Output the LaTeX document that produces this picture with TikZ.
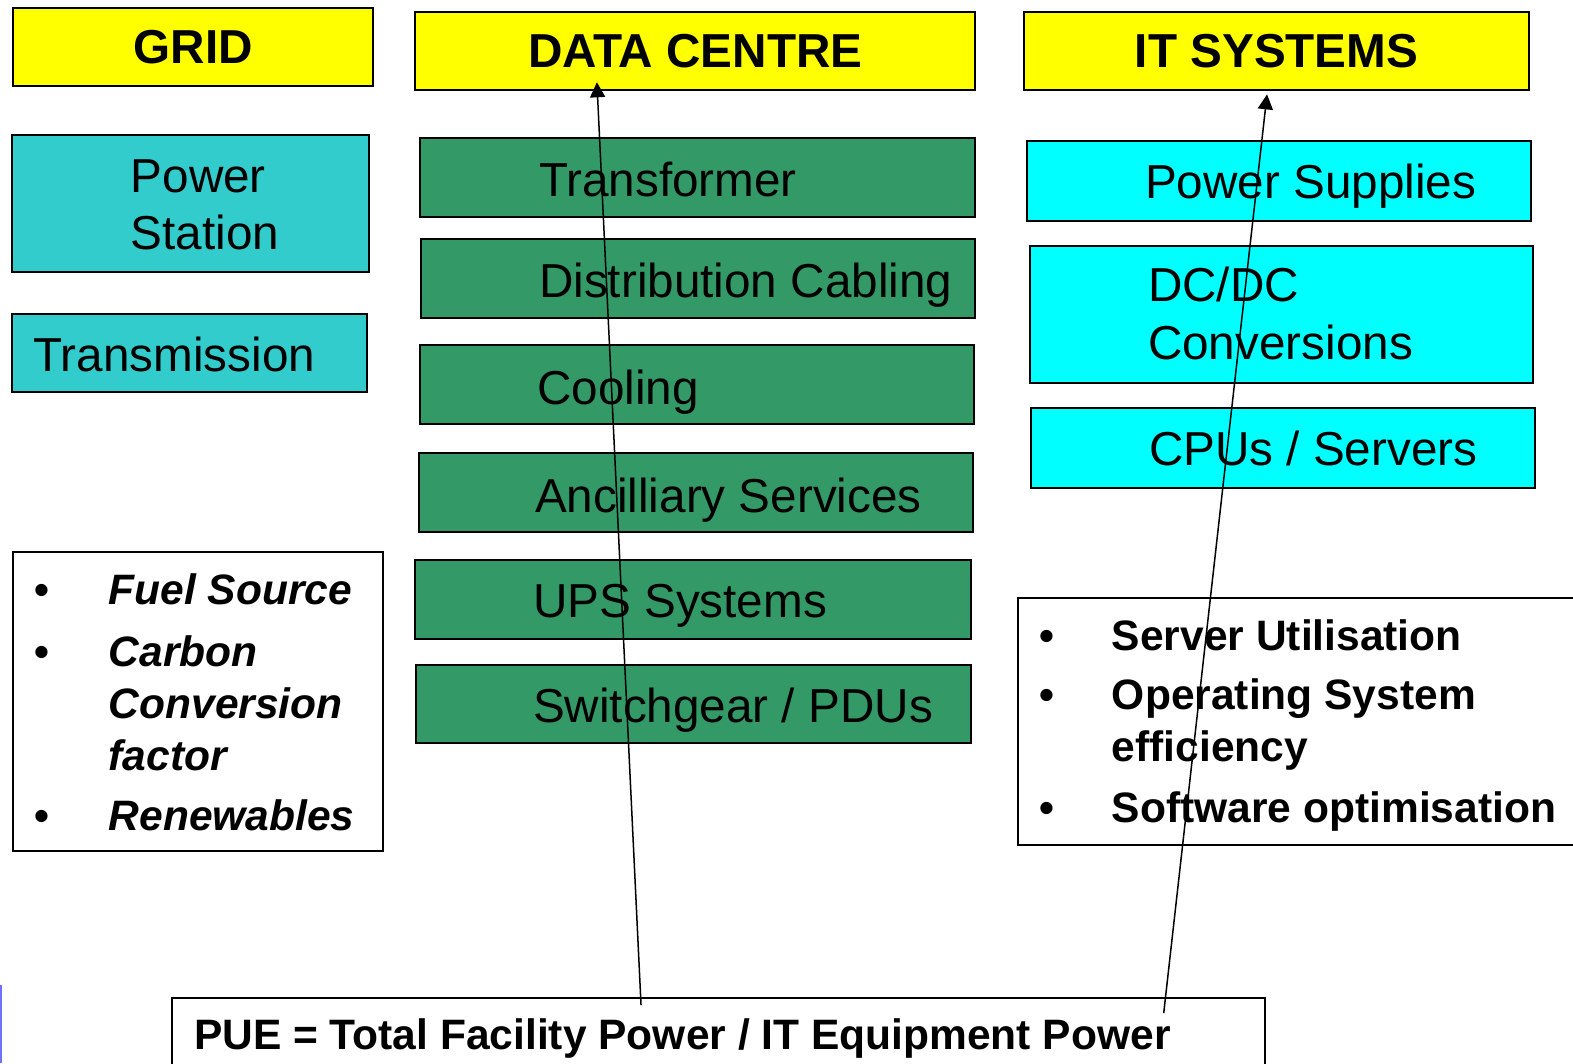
\documentclass[tikz,border=0pt]{standalone}
\usepackage{fontspec}
\setmainfont{Liberation Sans}
\usepackage{tikz}
\usetikzlibrary{positioning, arrows.meta}

\definecolor{titleyellow}{HTML}{FFFF00}
\definecolor{gridteal}{HTML}{33CCCC}
\definecolor{dcgreen}{HTML}{339966}
\definecolor{itcyan}{HTML}{00FFFF}
\definecolor{edgeblue}{HTML}{7070FF}

\begin{document}
\begin{tikzpicture}[x = 0.5pt, y = -0.5pt,
    box/.style = { draw, line width = 1pt, inner sep = 0pt, minimum height = 39pt },
    titlebox/.style = { box, fill = titleyellow, font = \fontsize{23.75}{28}\selectfont\bfseries },
    tealbox/.style = { box, fill = gridteal },
    greenbox/.style = { box, fill = dcgreen, minimum width = 276pt },
    cyanbox/.style = { box, fill = itcyan, minimum width = 251pt },
    listbox/.style = { box, fill = white },
    lbl/.style = { anchor = base west, inner sep = 0pt, font = \fontsize{23.75}{28}\selectfont },
    item/.style = { anchor = base west, inner sep = 0pt, font = \fontsize{21.2}{25}\selectfont\bfseries },
    itemit/.style = { item, font = \fontsize{21.2}{25}\selectfont\bfseries\itshape },
    pointer/.style = { line width = 0.75pt, -{Triangle[length = 7.5pt, width = 7.5pt]} }]
    \useasboundingbox (0,0) rectangle (1568,1060);
    \clip (0,0) rectangle (1568,1060);

    % column heads
    \node [titlebox, minimum width = 179.5pt] (grid) at (192.5,47) { GRID };
    \node [titlebox, minimum width = 279pt] (dc) at (693,51) { DATA CENTRE };
    \node [titlebox, minimum width = 251.5pt] (its) at (1272.5,51) { IT SYSTEMS };

    % grid
    \node [tealbox, minimum width = 178pt, minimum height = 68pt] (station) at (190,203) {};
    \node [lbl] (stationA) at (130,192) { Power };
    \node [lbl] (stationB) at (130,249) { Station };
    \node [tealbox, minimum width = 177pt] (transm) at (189,352) {};
    \node [lbl] (transmT) at (33,370) { Transmission };

    % data centre
    \node [greenbox, minimum width = 276.5pt] (trafo) at (695.5,177) {};
    \node [lbl] (trafoT) at (537,196) { Transformer };
    \node [greenbox, minimum height = 39.5pt] (cabling) at (696,277.5) {};
    \node [lbl] (cablingT) at (537,297) { Distribution Cabling };
    \node [greenbox, minimum height = 39.5pt] (cooling) at (695,383.5) {};
    \node [lbl] (coolingT) at (535,403) { Cooling };
    \node [greenbox] (ancill) at (694,491) {};
    \node [lbl] (ancillT) at (533,511) { Ancilliary Services };
    \node [greenbox, minimum width = 277pt, minimum height = 39.5pt] (ups) at (691,597.5) {};
    \node [lbl] (upsT) at (531,616) { UPS Systems };
    \node [greenbox, minimum width = 276.5pt] (switchg) at (691.5,702) {};
    \node [lbl] (switchgT) at (531,720) { Switchgear / PDUs };

    % it systems
    \node [cyanbox, minimum height = 39.5pt] (psu) at (1275,180.5) {};
    \node [lbl] (psuT) at (1141,198) { Power Supplies };
    \node [cyanbox, minimum width = 250.5pt, minimum height = 68.5pt] (dcdc) at (1277.5,313.5) {};
    \node [lbl] (dcdcA) at (1144,301) { DC/DC };
    \node [lbl] (dcdcB) at (1144,358) { Conversions };
    \node [cyanbox, minimum height = 39.5pt] (cpu) at (1279,446.5) {};
    \node [lbl] (cpuT) at (1145,464) { CPUs / Servers };

    % grid factors
    \node [listbox, minimum width = 184.5pt, minimum height = 149pt] (gridlist) at (197.5,699) {};
    \node [item] (gb1) at (34,603) { \textbullet };
    \node [itemit] (gi1) at (108,603) { Fuel Source };
    \node [item] (gb2) at (34,664) { \textbullet };
    \node [itemit] (gi2) at (108,664) { Carbon };
    \node [itemit] (gi3) at (108,716) { Conversion };
    \node [itemit] (gi4) at (108,768) { factor };
    \node [item] (gb3) at (34,828) { \textbullet };
    \node [itemit] (gi5) at (108,828) { Renewables };

    % it factors
    \node [listbox, minimum width = 292.5pt, minimum height = 123pt] (itlist) at (1307.5,719.5) {};
    \node [item] (ib1) at (1036,648) { \textbullet };
    \node [item] (ii1) at (1108,648) { Server Utilisation };
    \node [item] (ib2) at (1036,707) { \textbullet };
    \node [item] (ii2) at (1108,707) { Operating System };
    \node [item] (ii3) at (1108,759) { efficiency };
    \node [item] (ib3) at (1036,820) { \textbullet };
    \node [item] (ii4) at (1108,820) { Software optimisation };

    % pue
    \node [listbox, minimum width = 545pt, minimum height = 52.5pt] (pue) at (716,1047.5) {};
    \node [item] (pueT) at (193,1046) { PUE = Total Facility Power / IT Equipment Power };

    \coordinate (pueDC) at (639,1002);
    \coordinate (pueIT) at (1160,1010);
    \coordinate (dcTip) at (595,82);
    \coordinate (itTip) at (1263,94);
    \draw [pointer] (pueDC) -- (dcTip);
    \draw [pointer] (pueIT) -- (itTip);

    \draw [edgeblue, line width = 1pt] (0.5,982) -- (0.5,1060);
\end{tikzpicture}
\end{document}
